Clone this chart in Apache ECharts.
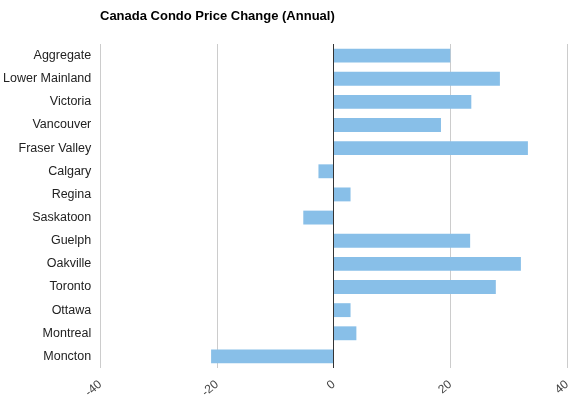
<!DOCTYPE html>
<html>
<head>
<meta charset="utf-8">
<script src="https://cdn.jsdelivr.net/npm/echarts@6/dist/echarts.min.js"></script>
<style>
  html, body { margin: 0; padding: 0; background: #fff; }
  #chart-container { width: 582px; height: 407px; }
</style>
</head>
<body>
<div id="chart-container"></div>
<script>
var dom = document.getElementById("chart-container");
var myChart = echarts.init(dom, null, { renderer: "canvas" });

// categories top to bottom
var regions = [
  "Aggregate", "Lower Mainland", "Victoria", "Vancouver", "Fraser Valley",
  "Calgary", "Regina", "Saskatoon", "Guelph", "Oakville",
  "Toronto", "Ottawa", "Montreal", "Moncton"
];
// annual price change, %
var changes = [
  20.0, 28.5, 23.6, 18.4, 33.3,
  -2.6, 2.9, -5.2, 23.4, 32.1,
  27.8, 2.9, 3.9, -21.0
];

var option = {
  animation: false,
  title: {
    text: "Canada Condo Price Change (Annual)",
    left: 95,
    top: 5,
    textStyle: {
      fontFamily: "Liberation Sans, Arial, sans-serif",
      fontSize: 13,
      fontWeight: "bold",
      color: "#000"
    }
  },
  grid: {
    left: 99,
    right: 15,
    top: 44,
    bottom: 39,
    containLabel: false
  },
  xAxis: {
    type: "value",
    min: -40,
    max: 40,
    interval: 20,
    axisLine: { show: false },
    axisTick: { show: false },
    splitLine: { lineStyle: { color: "#cccccc", width: 1 } },
    axisLabel: {
      rotate: 40,
      margin: 15,
      color: "#444",
      fontSize: 12,
      fontFamily: "Liberation Sans, Arial, sans-serif"
    }
  },
  yAxis: {
    type: "category",
    data: regions,
    inverse: true,
    axisLine: { show: false },
    axisTick: { show: false },
    splitLine: { show: false },
    axisLabel: {
      margin: 9,
      color: "#222",
      fontSize: 12.5,
      fontFamily: "Liberation Sans, Arial, sans-serif"
    }
  },
  series: [
    {
      type: "bar",
      data: changes,
      barCategoryGap: "40%",
      itemStyle: { color: "#88bfe8" },
      markLine: {
        silent: true,
        symbol: "none",
        label: { show: false },
        lineStyle: { color: "#333", type: "solid", width: 1 },
        data: [{ xAxis: 0 }]
      }
    }
  ]
};

myChart.setOption(option);
window.addEventListener("resize", myChart.resize);
</script>
</body>
</html>
